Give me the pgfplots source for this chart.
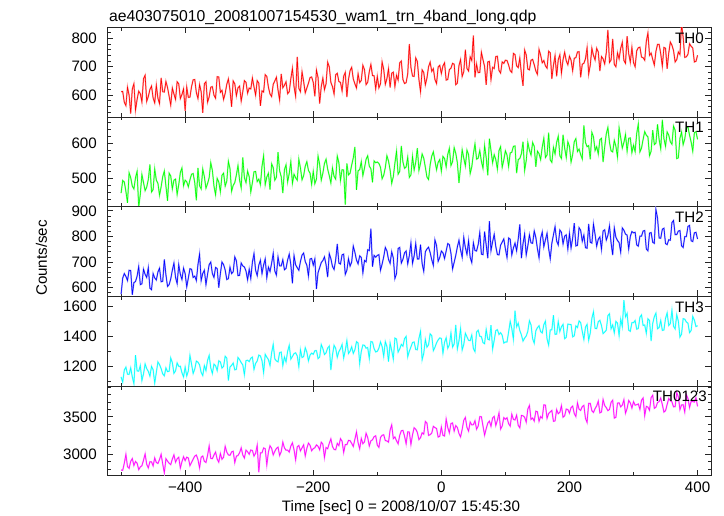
\documentclass[border=0pt]{standalone}
\usepackage{pgfplots}
\usepackage{pgfplotstable}
\pgfplotsset{compat=1.18}
\usepackage{fontspec}
\setmainfont{Liberation Sans}
\definecolor{cR}{RGB}{255,0,0}
\definecolor{cG}{RGB}{0,255,0}
\definecolor{cB}{RGB}{0,0,255}
\definecolor{cC}{RGB}{0,255,255}
\definecolor{cM}{RGB}{255,0,255}

\pgfplotstableread{
t a b c d e
-500 612 458 575 1130 2790
-497.5 613 494 637 1095 2785
-495 575 490 655 1175 2880
-492.5 563 463 644 1195 2998
-490 628 430 628 1148 2835
-487.5 600 516 668 1147 2812
-485 535 502 667 1190 2905
-482.5 622 478 572 1130 2942
-480 640 470 620 1085 2850
-477.5 547 502 624 1275 2903
-475 585 520 645 1170 2880
-472.5 614 417 682 1168 2794
-470 605 455 612 1205 2830
-467.5 576 511 615 1106 2847
-465 658 488 672 1150 2920
-462.5 670 465 652 1216 3004
-460 578 475 640 1185 2865
-457.5 595 497 678 1167 2818
-455 620 540 598 1135 2900
-452.5 632 461 592 1200 2898
-450 590 468 655 1178 2845
-447.5 573 527 638 1088 2951
-445 635 495 630 1160 2890
-442.5 589 486 661 1229 2877
-440 570 452 676 1212 2930
-437.5 661 476 623 1185 2999
-435 612 505 625 1150 2870
-432.5 611 521 710 1137 2751
-430 648 478 650 1190 2940
-427.5 627 436 605 1165 2908
-425 596 515 612 1168 2880
-422.5 565 507 634 1256 2862
-420 625 470 668 1225 2935
-417.5 604 495 696 1154 2992
-415 585 498 640 1170 2895
-412.5 647 454 616 1223 2939
-410 640 482 690 1200 2960
-407.5 588 517 652 1201 2816
-405 602 530 632 1158 2900
-402.5 622 479 676 1130 2966
-400 545 495 655 1195 2915
-397.5 628 490 603 1136 2961
-395 592 476 638 1170 2950
-392.5 593 496 674 1273 2847
-390 630 512 672 1215 2890
-387.5 654 514 640 1153 2935
-385 655 488 645 1182 2975
-382.5 609 437 628 1235 2989
-380 588 530 690 1228 2930
-377.5 637 479 731 1210 2818
-375 612 470 628 1160 2960
-372.5 538 527 656 1139 2977
-370 640 505 668 1205 2905
-367.5 647 472 612 1172 2890
-365 575 485 652 1240 2985
-362.5 594 502 690 1273 3111
-360 628 545 700 1190 2945
-357.5 630 523 655 1153 2941
-355 600 478 640 1215 2990
-352.5 589 453 679 1204 3029
-350 665 500 675 1172 2935
-347.5 664 490 600 1237 2894
-345 610 462 655 1230 3010
-342.5 617 509 700 1189 2933
-340 585 515 690 1200 2960
-337.5 606 478 669 1267 3106
-335 638 492 632 1255 3030
-332.5 657 549 635 1106 2991
-330 618 528 680 1195 2985
-327.5 559 463 655 1207 3031
-325 650 480 662 1222 3040
-322.5 640 488 720 1177 2888
-320 598 510 705 1180 2975
-317.5 626 537 647 1259 2983
-315 632 495 648 1245 3020
-312.5 579 473 696 1225 3086
-310 612 560 685 1210 2990
-307.5 651 502 681 1145 2950
-305 645 488 665 1238 3055
-302.5 607 521 631 1241 3032
-300 625 505 672 1232 3000
-297.5 622 461 636 1254 3057
-295 660 488 700 1262 3050
-292.5 629 519 733 1180 2976
-290 600 520 668 1220 3015
-287.5 651 491 647 1236 3120
-285 642 498 688 1275 2760
-282.5 562 482 707 1270 3018
-280 615 535 655 1238 3020
-277.5 611 565 689 1159 3085
-275 672 482 712 1280 3075
-272.5 666 504 639 1261 2858
-270 628 515 680 1245 3030
-267.5 604 468 663 1205 3113
-265 595 542 695 1290 3080
-262.5 638 531 734 1346 2991
-260 650 495 665 1250 3040
-257.5 663 503 649 1236 3078
-255 618 575 720 1230 3095
-252.5 583 522 685 1292 2984
-250 675 505 685 1295 3035
-247.5 626 458 709 1205 3162
-245 635 525 670 1262 3085
-242.5 647 539 675 1230 3054
-240 605 490 708 1300 3055
-237.5 612 514 731 1340 3029
-235 658 548 690 1248 3110
-232.5 694 486 617 1266 3152
-230 630 512 725 1285 3060
-227.5 596 502 689 1290 2925
-225 735 495 678 1270 3100
-222.5 624 555 668 1198 3117
-220 612 530 702 1310 3045
-217.5 682 496 727 1259 3086
-215 648 508 735 1265 3125
-212.5 608 535 702 1324 2977
-210 625 548 688 1295 3080
-207.5 642 523 646 1237 3149
-205 662 515 712 1275 3120
-202.5 664 483 714 1288 3047
-200 645 520 688 1280 3075
-197.5 596 485 712 1304 3087
-195 688 498 595 1305 3125
-192.5 662 564 659 1252 3106
-190 570 540 678 1262 3060
-187.5 630 495 698 1345 3161
-185 660 515 706 1318 3135
-182.5 619 543 720 1279 2956
-180 640 555 690 1290 3090
-177.5 716 527 641 1322 3074
-175 700 508 733 1335 3145
-172.5 645 487 713 1176 3205
-170 630 530 683 1275 3105
-167.5 604 506 671 1340 3064
-165 672 498 708 1320 3060
-162.5 677 564 771 1261 3146
-160 648 545 696 1298 3115
-157.5 645 494 692 1317 3208
-155 615 525 728 1345 3175
-152.5 667 524 731 1256 3024
-150 680 425 652 1305 3130
-147.5 593 543 668 1371 3128
-145 655 510 713 1285 3185
-142.5 686 515 684 1301 3182
-140 698 538 700 1330 3145
-137.5 657 559 762 1286 3104
-135 640 590 738 1310 3200
-132.5 625 467 708 1364 3298
-130 675 522 693 1355 3155
-127.5 644 525 724 1218 3073
-125 652 548 718 1300 3210
-122.5 705 508 658 1342 3141
-120 690 530 706 1340 3165
-117.5 637 555 701 1321 3280
-115 645 565 748 1325 3225
-112.5 683 535 745 1252 3110
-110 708 528 830 1365 3180
-107.5 669 489 682 1362 3193
-105 668 550 726 1318 3235
-102.5 622 545 719 1296 3247
-100 666 547 726 1300 3122
-97.5 626 543 729 1321 3092
-95 640 532 668 1362 3225
-92.5 717 499 692 1332 3253
-90 691 509 720 1267 3261
-87.5 638 531 757 1365 3183
-85 658 565 744 1333 3178
-82.5 693 550 710 1232 3161
-80 627 524 695 1355 3323
-77.5 677 486 740 1305 3392
-75 681 505 716 1249 3209
-72.5 630 544 636 1388 3231
-70 670 578 655 1382 3180
-67.5 653 512 753 1295 3139
-65 714 520 757 1316 3253
-62.5 720 593 696 1346 3314
-60 655 547 711 1334 3319
-57.5 641 529 736 1384 3244
-55 644 533 743 1399 3140
-52.5 675 561 693 1264 3299
-50 780 503 725 1301 3297
-47.5 698 510 774 1329 3131
-45 667 563 695 1359 3261
-42.5 666 524 724 1362 3354
-40 731 546 772 1312 3334
-37.5 719 587 712 1310 3291
-35 655 523 712 1386 3196
-32.5 612 544 768 1433 3221
-30 689 570 694 1244 3287
-27.5 680 558 664 1286 3269
-25 636 532 740 1378 3438
-22.5 660 504 751 1328 3416
-20 700 497 758 1343 3252
-17.5 716 539 737 1416 3262
-15 684 564 709 1405 3283
-12.5 693 576 687 1305 3373
-10 655 550 786 1327 3356
-7.5 641 525 765 1356 3345
-5 699 546 703 1376 3230
-2.5 705 554 718 1389 3240
0 676 521 743 1386 3363
2.5 703 563 736 1288 3253
5 714 557 714 1361 3243
7.5 653 533 743 1390 3469
10 655 569 772 1320 3357
12.5 690 586 768 1343 3286
15 695 537 734 1422 3411
17.5 712 548 673 1328 3419
20 709 588 699 1349 3310
22.5 637 572 726 1475 3383
25 642 545 759 1316 3358
27.5 704 487 785 1369 3277
30 725 533 747 1451 3232
32.5 666 582 719 1309 3332
35 683 558 796 1346 3454
37.5 760 536 756 1420 3492
40 694 581 730 1396 3358
42.5 685 568 783 1373 3309
45 735 514 718 1371 3430
47.5 722 533 698 1408 3392
50 810 570 775 1318 3395
52.5 663 599 745 1298 3448
55 709 555 743 1429 3335
57.5 679 558 768 1440 3377
60 680 580 815 1400 3503
62.5 751 549 731 1398 3502
65 725 529 729 1358 3377
67.5 701 594 819 1351 3256
70 636 560 767 1445 3341
72.5 717 509 715 1381 3416
75 719 614 860 1376 3443
77.5 655 580 745 1474 3373
80 698 545 779 1315 3485
82.5 694 568 808 1373 3506
85 736 554 761 1438 3384
87.5 737 527 729 1444 3456
90 687 580 728 1412 3552
92.5 678 591 766 1424 3336
95 717 532 778 1407 3378
97.5 712 553 790 1355 3489
100 723 579 751 1362 3468
102.5 722 567 718 1362 3488
105 706 534 794 1428 3409
107.5 686 573 789 1499 3376
110 680 575 728 1451 3535
112.5 747 592 755 1380 3466
115 743 593 774 1570 3458
117.5 703 515 744 1463 3522
120 697 554 790 1487 3386
122.5 731 557 847 1438 3353
125 675 571 715 1409 3519
127.5 633 605 772 1368 3514
130 759 523 809 1388 3495
132.5 742 551 728 1402 3429
135 692 603 763 1434 3604
137.5 689 581 806 1503 3653
140 723 567 775 1476 3466
142.5 726 603 773 1384 3484
145 707 592 821 1354 3443
147.5 685 533 796 1436 3575
150 673 578 752 1457 3569
152.5 761 571 717 1470 3441
155 741 554 793 1431 3504
157.5 714 590 817 1422 3483
160 722 615 760 1477 3660
162.5 703 560 787 1501 3657
165 695 567 812 1383 3481
167.5 755 631 753 1341 3545
170 749 553 713 1442 3565
172.5 657 546 773 1443 3586
175 705 589 806 1540 3440
177.5 739 570 838 1413 3446
180 666 603 782 1414 3596
182.5 725 621 767 1497 3543
185 742 565 825 1432 3561
187.5 678 557 816 1463 3648
190 725 625 771 1479 3495
192.5 751 587 801 1384 3514
195 721 560 806 1393 3604
197.5 707 605 751 1481 3598
200 737 592 812 1479 3550
202.5 723 547 755 1478 3624
205 686 568 793 1396 3644
207.5 730 605 852 1403 3544
210 732 614 763 1469 3504
212.5 752 577 765 1458 3687
215 753 584 834 1502 3603
217.5 663 568 824 1491 3586
220 709 556 781 1432 3637
222.5 712 652 805 1379 3653
225 728 603 756 1461 3479
227.5 767 591 754 1479 3426
230 674 594 849 1374 3681
232.5 706 555 777 1422 3681
235 765 632 774 1519 3582
237.5 740 619 848 1563 3559
240 724 580 808 1452 3610
242.5 765 591 762 1451 3647
245 752 570 789 1497 3710
247.5 685 611 798 1506 3553
250 736 615 750 1471 3564
252.5 728 547 821 1418 3731
255 710 590 826 1428 3651
257.5 750 628 786 1441 3623
260 830 646 804 1537 3583
262.5 715 603 841 1550 3599
265 724 579 774 1450 3695
267.5 798 576 727 1475 3722
270 708 609 833 1423 3483
272.5 700 592 797 1499 3494
275 749 561 784 1488 3684
277.5 728 645 776 1405 3687
280 765 617 739 1513 3634
282.5 786 587 833 1465 3656
285 722 603 824 1640 3728
287.5 712 626 809 1529 3548
290 808 578 805 1552 3612
292.5 746 615 751 1440 3719
295 716 616 800 1433 3687
297.5 768 574 819 1491 3618
300 715 595 814 1490 3703
302.5 700 577 816 1505 3656
305 756 629 767 1447 3663
307.5 767 656 762 1452 3672
310 769 576 801 1527 3600
312.5 734 587 801 1542 3724
315 732 612 821 1472 3752
317.5 723 634 823 1475 3516
320 790 624 751 1420 3640
322.5 819 619 744 1516 3630
325 740 565 813 1505 3588
327.5 748 578 815 1368 3758
330 726 638 777 1485 3789
332.5 706 597 773 1531 3614
335 754 601 905 1554 3629
337.5 779 655 872 1450 3693
340 779 611 794 1458 3703
342.5 746 585 793 1505 3751
345 702 668 828 1439 3663
347.5 768 614 832 1442 3564
350 765 592 772 1519 3582
352.5 693 633 768 1555 3665
355 748 624 787 1472 3746
357.5 787 605 785 1484 3716
360 776 598 854 1572 3700
362.5 757 650 862 1466 3634
365 717 638 807 1449 3636
367.5 725 557 807 1543 3825
370 752 559 821 1501 3765
372.5 743 615 823 1395 3597
375 850 633 763 1414 3659
377.5 804 597 757 1517 3662
380 733 613 799 1514 3565
382.5 735 645 799 1495 3797
385 744 647 839 1487 3747
387.5 781 624 843 1424 3624
390 772 604 783 1439 3708
392.5 766 578 780 1532 3704
395 717 631 814 1508 3698
397.5 719 634 816 1465 3755
400 740 612 790 1470 3640
}\lc

\pgfplotsset{
  panel/.style={
    scale only axis, width=604bp, height=89.7bp, anchor=north west,
    xmin=-522, xmax=421,
    xtick={-400,-200,0,200,400}, minor xtick={-500,-300,-100,100,300},
    xticklabels={},
    tick align=inside, major tick length=6bp, minor tick length=3.5bp,
    axis line style={line width=0.9bp, black!85},
    every tick/.style={black!85, line width=0.7bp},
    tick label style={font=\fontsize{15.2}{16}\selectfont, text=black},
    yticklabel style={inner sep=0pt, xshift=-10bp},
    xticklabel style={inner sep=0pt, yshift=-6bp},
    clip=true,
  },
  halo/.style={line width=1.4bp, line join=miter},
  core/.style={line width=0.55bp},
}
\tikzset{
  lab/.style={anchor=north east, inner sep=0pt, xshift=-7bp, yshift=-5bp, font=\fontsize{15.2}{16}\selectfont},
}

\begin{document}
\begin{tikzpicture}
\path[use as bounding box] (0bp,0bp) rectangle (724bp,516bp);

\begin{axis}[panel, at={(107bp,488.7bp)}, ymin=523, ymax=839,
  ytick={600,700,800}, yticklabels={600,700,800}, minor ytick={540,560,...,820}]
\addplot[cR!45!white, halo] table[x=t,y=a]{\lc};
\addplot[cR, core] table[x=t,y=a]{\lc};
\node[lab] at (rel axis cs:1,1) {TH0};
\end{axis}

\begin{axis}[panel, at={(107bp,399.0bp)}, ymin=419, ymax=676,
  ytick={500,600}, yticklabels={500,600}, minor ytick={420,440,...,660}]
\addplot[cG!45!white, halo] table[x=t,y=b]{\lc};
\addplot[cG, core] table[x=t,y=b]{\lc};
\node[lab] at (rel axis cs:1,1) {TH1};
\end{axis}

\begin{axis}[panel, at={(107bp,309.3bp)}, ymin=566, ymax=916,
  ytick={600,700,800,900}, yticklabels={600,700,800,900}, minor ytick={580,600,...,900}]
\addplot[cB!45!white, halo] table[x=t,y=c]{\lc};
\addplot[cB, core] table[x=t,y=c]{\lc};
\node[lab] at (rel axis cs:1,1) {TH2};
\end{axis}

\begin{axis}[panel, at={(107bp,219.6bp)}, ymin=1069, ymax=1665,
  ytick={1200,1400,1600}, yticklabels={1200,1400,1600}, minor ytick={1100,1200,...,1600}]
\addplot[cC!45!white, halo] table[x=t,y=d]{\lc};
\addplot[cC, core] table[x=t,y=d]{\lc};
\node[lab] at (rel axis cs:1,1) {TH3};
\end{axis}

\begin{axis}[panel, at={(107bp,129.9bp)}, ymin=2712, ymax=3911,
  ytick={3000,3500}, yticklabels={3000,3500}, minor ytick={2800,2900,...,3900},
  xticklabels={−400,−200,0,200,400}]
\addplot[cM!45!white, halo] table[x=t,y=e]{\lc};
\addplot[cM, core] table[x=t,y=e]{\lc};
\node[lab, xshift=3bp] at (rel axis cs:1,1) {TH0123};
\end{axis}

\node[anchor=base west, inner sep=0pt, font=\fontsize{15.8}{16}\selectfont] at (109bp,494bp) {ae403075010\_20081007154530\_wam1\_trn\_4band\_long.qdp};
\node[rotate=90, inner sep=0pt, font=\fontsize{15.2}{16}\selectfont] at (41.5bp,258bp) {Counts/sec};
\node[anchor=base, inner sep=0pt, font=\fontsize{15.2}{16}\selectfont] at (401bp,4.3bp) {Time [sec] 0 = 2008/10/07 15:45:30};
\end{tikzpicture}
\end{document}
